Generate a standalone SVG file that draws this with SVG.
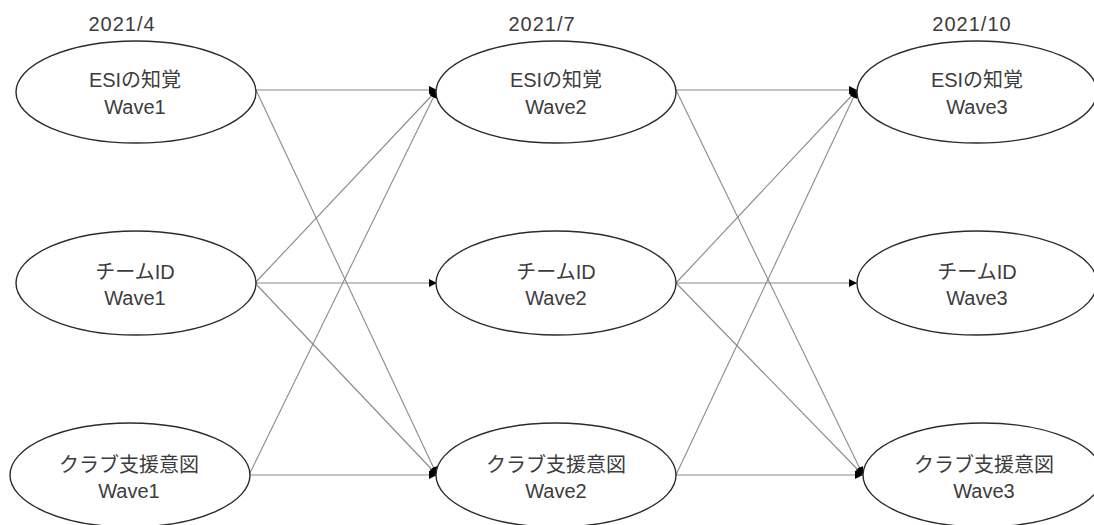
<svg xmlns="http://www.w3.org/2000/svg" width="1094" height="525" viewBox="0 0 1094 525">
<style>
  .node ellipse { fill: #ffffff; stroke: #2b2b2b; stroke-width: 1.4; }
  .lbl { font-family: "Liberation Sans", "Noto Sans CJK JP", sans-serif; font-size: 20px; fill: #3c3c3c; text-anchor: middle; }
  .date { font-family: "Liberation Sans", "Noto Sans CJK JP", sans-serif; font-size: 20px; fill: #3c3c3c; text-anchor: middle; letter-spacing: 1px; }
  .conn line { stroke: #8a8a8a; stroke-width: 1.1; marker-end: url(#arr); }
</style>
<defs>
  <marker id="arr" viewBox="0 0 10 10" refX="10" refY="5" markerWidth="9" markerHeight="8" markerUnits="userSpaceOnUse" orient="auto">
    <path d="M0,0 L10,5 L0,10 z" fill="#000000"/>
  </marker>
</defs>
<rect width="1094" height="525" fill="#ffffff"/>
<g id="dates">
  <text class="date" x="122" y="31">2021/4</text>
  <text class="date" x="542" y="31">2021/7</text>
  <text class="date" x="972" y="31">2021/10</text>
</g>
<g id="connectors" class="conn">
  <line x1="256" y1="90" x2="437" y2="90"/>
  <line x1="256" y1="90" x2="437" y2="475"/>
  <line x1="255" y1="283" x2="437" y2="90"/>
  <line x1="255" y1="283" x2="437" y2="283"/>
  <line x1="255" y1="283" x2="437" y2="475"/>
  <line x1="249" y1="475" x2="437" y2="90"/>
  <line x1="249" y1="475" x2="437" y2="475"/>
  <line x1="676" y1="90" x2="857" y2="90"/>
  <line x1="676" y1="90" x2="863" y2="475"/>
  <line x1="676" y1="283" x2="857" y2="90"/>
  <line x1="676" y1="283" x2="857" y2="283"/>
  <line x1="676" y1="283" x2="863" y2="475"/>
  <line x1="676" y1="475" x2="857" y2="90"/>
  <line x1="676" y1="475" x2="863" y2="475"/>
</g>
<g id="esi1" class="node"><ellipse cx="136" cy="92" rx="120" ry="51"/><text class="lbl" x="135" y="87">ESIの知覚</text><text class="lbl" x="135" y="114">Wave1</text></g>
<g id="team1" class="node"><ellipse cx="136" cy="283" rx="120" ry="52"/><text class="lbl" x="135" y="279">チームID</text><text class="lbl" x="135" y="305">Wave1</text></g>
<g id="club1" class="node"><ellipse cx="130" cy="475" rx="120" ry="52"/><text class="lbl" x="129" y="472">クラブ支援意図</text><text class="lbl" x="129" y="498">Wave1</text></g>
<g id="esi2" class="node"><ellipse cx="556" cy="92" rx="120" ry="51"/><text class="lbl" x="556" y="87">ESIの知覚</text><text class="lbl" x="556" y="114">Wave2</text></g>
<g id="team2" class="node"><ellipse cx="556" cy="283" rx="120" ry="52"/><text class="lbl" x="556" y="279">チームID</text><text class="lbl" x="556" y="305">Wave2</text></g>
<g id="club2" class="node"><ellipse cx="556" cy="475" rx="120" ry="52"/><text class="lbl" x="556" y="472">クラブ支援意図</text><text class="lbl" x="556" y="498">Wave2</text></g>
<g id="esi3" class="node"><ellipse cx="977" cy="92" rx="120" ry="51"/><text class="lbl" x="977" y="87">ESIの知覚</text><text class="lbl" x="977" y="114">Wave3</text></g>
<g id="team3" class="node"><ellipse cx="977" cy="283" rx="120" ry="52"/><text class="lbl" x="977" y="279">チームID</text><text class="lbl" x="977" y="305">Wave3</text></g>
<g id="club3" class="node"><ellipse cx="983" cy="475" rx="120" ry="52"/><text class="lbl" x="984" y="472">クラブ支援意図</text><text class="lbl" x="984" y="498">Wave3</text></g>
</svg>
